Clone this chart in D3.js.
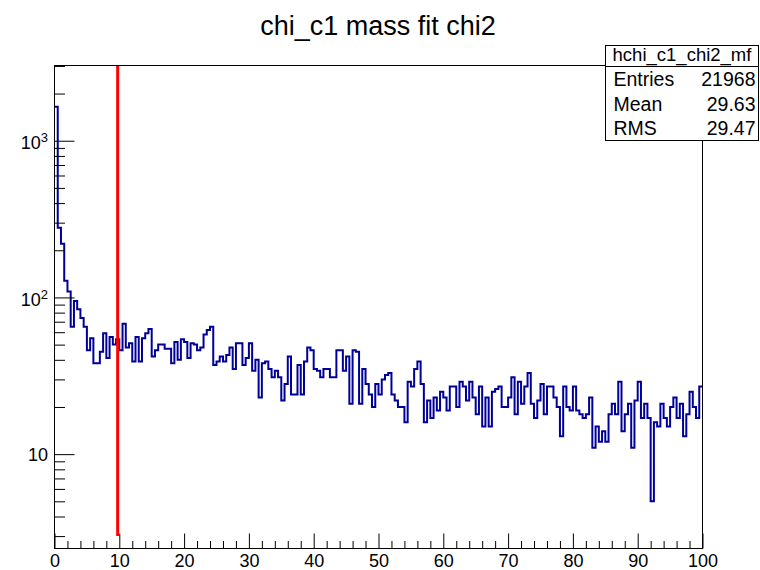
<!DOCTYPE html>
<html>
<head>
<meta charset="utf-8">
<script src="https://cdn.jsdelivr.net/npm/d3@7"></script>
<style>
  body { margin: 0; background: #fff; }
  svg { display: block; font-family: "Liberation Sans", Arial, Helvetica, sans-serif; }
</style>
</head>
<body>
<div id="chart"></div>
<script>
// hchi_c1_chi2_mf : 200 bins between 0 and 100
const xMin = 0, xMax = 100, binWidth = 0.5;
const counts = [
  1650, 278, 220, 128, 109, 65, 95, 84, 74, 65,
  46, 55, 38, 38, 45, 59, 41, 56, 50, 54,
  46, 68, 48, 51, 39, 56, 39, 55, 59, 63,
  42, 46, 50, 50, 47, 47, 38, 52, 40, 54,
  52, 41, 51, 50, 46, 48, 58, 62, 65, 37,
  39, 42, 39, 43, 48, 35, 51, 51, 37, 41,
  51, 34, 40, 23, 38, 39, 35, 31, 34, 31,
  22, 28, 42, 24, 24, 37, 24, 39, 48, 46,
  35, 34, 31, 35, 35, 31, 31, 46, 46, 34,
  42, 21, 46, 45, 21, 35, 28, 24, 20, 28,
  24, 30, 32, 33, 24, 22, 20, 20, 16, 29,
  27, 35, 39, 28, 16, 22, 17, 23, 19, 25,
  23, 19, 27, 27, 20, 29, 27, 22, 29, 23,
  18, 27, 15, 23, 15, 25, 26, 27, 20, 20,
  23, 31, 18, 29, 21, 27, 33, 21, 17, 22,
  28, 18, 27, 27, 23, 20, 13, 27, 20, 19,
  27, 19, 18, 17, 18, 23, 11, 15, 12, 14,
  12, 18, 21, 18, 29, 14, 18, 21, 11, 22,
  29, 17, 21, 17, 5, 16, 15, 21, 17, 15,
  20, 23, 17, 21, 13, 18, 25, 20, 17, 27
];

const xMajorTicks = [0, 10, 20, 30, 40, 50, 60, 70, 80, 90, 100];
const yMajorTicks = [10, 100, 1000];
const yMajorExp = ['', '2', '3'];          // label = 10 or 10^exp
const yMinorTicks = [3, 4, 5, 6, 7, 8, 9, 20, 30, 40, 50, 60, 70, 80, 90,
  200, 300, 400, 500, 600, 700, 800, 900, 2000, 3000];
const yRange = [2.5, 3020];

const title = 'chi_c1 mass fit chi2';
const statTitle = 'hchi_c1_chi2_mf';
const statNames = ['Entries', 'Mean', 'RMS'];
const statValues = ['21968', '29.63', '29.47'];

// cut marker drawn as a red line
const cutX = 9.75, cutY = [3, 3000];

const width = 760, height = 570;
const margin = { top: 65, right: 58, bottom: 22, left: 54 };

const svg = d3.select('#chart').append('svg')
  .attr('width', width)
  .attr('height', height);

const x = d3.scaleLinear()
  .domain([xMin, xMax])
  .range([margin.left + 0.5, width - margin.right + 0.5]);

const y = d3.scaleLog()
  .domain(yRange)
  .range([height - margin.bottom + 0.5, margin.top + 0.5]);

// title
svg.append('text')
  .attr('x', 378)
  .attr('y', 35)
  .attr('text-anchor', 'middle')
  .attr('font-size', 27)
  .text(title);

// histogram outline (step)
const pts = counts.map((c, i) => [xMin + i * binWidth, c]);
pts.push([xMax, counts[counts.length - 1]]);

const line = d3.line()
  .x(d => x(d[0]))
  .y(d => y(d[1]))
  .curve(d3.curveStepAfter);

svg.append('path')
  .attr('d', line(pts))
  .attr('fill', 'none')
  .attr('stroke', '#000099')
  .attr('stroke-width', 2);

// x axis: major + minor ticks pointing inwards
const xMinor = d3.range(xMin, xMax + 0.001, 2).filter(v => v % 10 !== 0);

svg.append('g')
  .attr('transform', 'translate(0,' + y.range()[0] + ')')
  .call(d3.axisBottom(x).tickValues(xMinor).tickSize(-7.5).tickFormat(''))
  .call(g => g.select('.domain').remove());

svg.append('g')
  .attr('class', 'xaxis')
  .attr('transform', 'translate(0,' + y.range()[0] + ')')
  .call(d3.axisBottom(x).tickValues(xMajorTicks).tickSize(-15).tickPadding(6).tickFormat(d3.format('d')))
  .call(g => g.select('.domain').remove())
  .call(g => g.selectAll('text').attr('font-size', 18).attr('font-family', null).attr('fill', '#000'));

// y axis
svg.append('g')
  .attr('transform', 'translate(' + x.range()[0] + ',0)')
  .call(d3.axisLeft(y).tickValues(yMinorTicks).tickSize(-10.5).tickFormat(''))
  .call(g => g.select('.domain').remove());

svg.append('g')
  .attr('transform', 'translate(' + x.range()[0] + ',0)')
  .call(d3.axisLeft(y).tickValues(yMajorTicks).tickSize(-20).tickFormat(''))
  .call(g => g.select('.domain').remove());

svg.selectAll('g.tick line').attr('stroke', '#000');

const ylab = svg.append('g').selectAll('text')
  .data(yMajorTicks)
  .enter()
  .append('text')
  .attr('x', 48)
  .attr('y', (d, i) => y(d) + (yMajorExp[i] ? 8.5 : 6.5))
  .attr('text-anchor', 'end')
  .attr('font-size', 18);

ylab.append('tspan').text('10');
ylab.append('tspan')
  .attr('font-size', 13)
  .attr('dy', -7)
  .text((d, i) => yMajorExp[i]);

// frame
svg.append('rect')
  .attr('x', x.range()[0])
  .attr('y', y.range()[1])
  .attr('width', x.range()[1] - x.range()[0])
  .attr('height', y.range()[0] - y.range()[1])
  .attr('fill', 'none')
  .attr('stroke', '#000');

// cut line
svg.append('line')
  .attr('x1', x(cutX)).attr('x2', x(cutX))
  .attr('y1', y(cutY[0])).attr('y2', y(cutY[1]))
  .attr('stroke', '#ff0000')
  .attr('stroke-width', 3);

// stats box
const box = { x: 605.5, y: 45.5, w: 153, h: 95, head: 21 };
const stats = svg.append('g');
stats.append('rect')
  .attr('x', box.x).attr('y', box.y)
  .attr('width', box.w).attr('height', box.h)
  .attr('fill', '#fff').attr('stroke', '#000');
stats.append('line')
  .attr('x1', box.x).attr('x2', box.x + box.w)
  .attr('y1', box.y + box.head).attr('y2', box.y + box.head)
  .attr('stroke', '#000');
stats.append('text')
  .attr('x', box.x + box.w / 2)
  .attr('y', box.y + 15)
  .attr('text-anchor', 'middle')
  .attr('font-size', 18.5)
  .text(statTitle);

const rowH = (box.h - box.head) / statNames.length;
stats.selectAll('.sname')
  .data(statNames)
  .enter().append('text')
  .attr('x', box.x + 8)
  .attr('y', (d, i) => box.y + box.head + rowH * (i + 0.5) + 7)
  .attr('font-size', 19.5)
  .text(d => d);
stats.selectAll('.sval')
  .data(statValues)
  .enter().append('text')
  .attr('x', box.x + box.w - 3)
  .attr('y', (d, i) => box.y + box.head + rowH * (i + 0.5) + 7)
  .attr('text-anchor', 'end')
  .attr('font-size', 19.5)
  .text(d => d);
</script>
</body>
</html>
